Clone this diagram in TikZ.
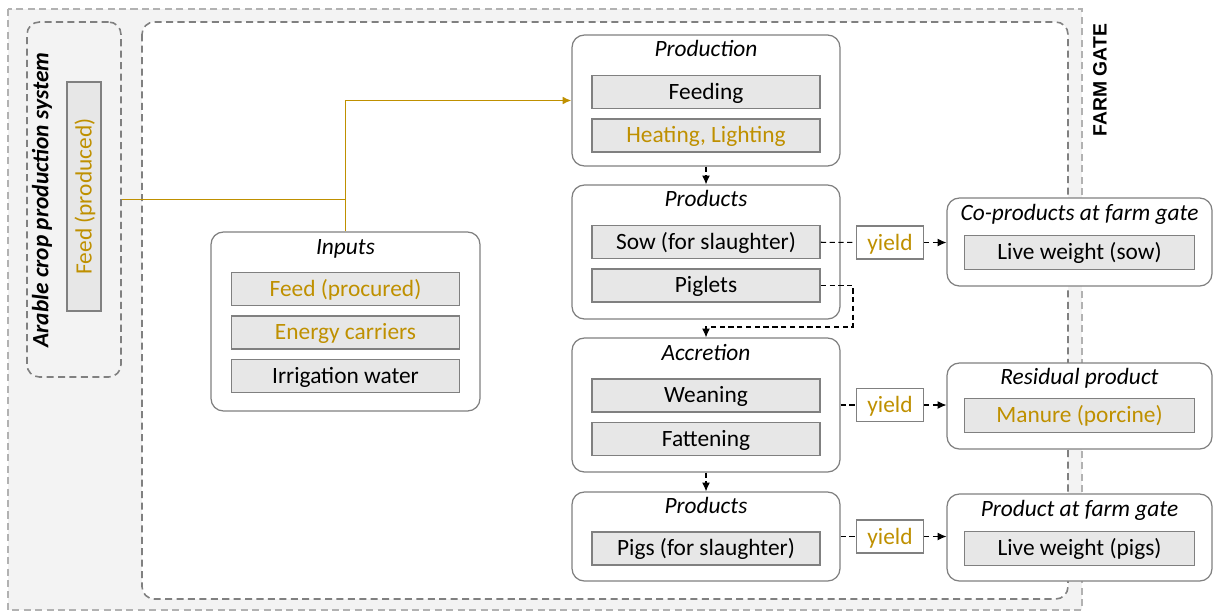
\documentclass[tikz,border=0pt]{standalone}
\usepackage{fontspec}
\setmainfont{Carlito}
\newfontfamily\gatefont{Liberation Sans}
\usetikzlibrary{positioning,arrows.meta}

\definecolor{gold}{RGB}{191,144,0}
\definecolor{boxline}{RGB}{128,128,128}
\definecolor{itemfill}{RGB}{231,231,231}
\definecolor{gatefill}{RGB}{243,243,243}
\definecolor{gateline}{RGB}{178,178,178}

\newcommand{\labelsize}{\fontsize{13.3pt}{16pt}\selectfont}

\tikzset{
  container/.style={draw=boxline, line width=0.7pt, rounded corners=7pt, fill=white, minimum width=5.36cm},
  outbox/.style={container, minimum width=5.3cm},
  item/.style={draw=boxline, line width=0.9pt, fill=itemfill, minimum width=4.56cm, minimum height=0.66cm, inner sep=0pt, text height=8.6pt, text depth=0pt},
  outitem/.style={item, minimum width=4.6cm, minimum height=0.68cm},
  boxtitle/.style={font=\labelsize\itshape, inner sep=0pt, text height=8.6pt, text depth=0pt},
  yieldbox/.style={draw=boxline, line width=0.7pt, fill=white, text=gold, minimum width=1.34cm, minimum height=0.66cm, inner sep=0pt, text height=8.6pt, text depth=0pt},
  region/.style={dashed, dash pattern=on 4pt off 2.5pt, line width=0.9pt},
  flow/.style={draw, dashed, dash pattern=on 3pt off 2pt, line width=0.6pt},
  feedline/.style={draw=gold, line width=0.9pt},
}

\begin{document}
\begin{tikzpicture}[x=0.02cm, y=-0.02cm, node distance=0.87cm, >={Latex[length=5pt,width=4.5pt]}, font=\labelsize]
    \useasboundingbox (0,0) rectangle (1213,612);

    % farm gate regions
    \draw[region, draw=gateline, fill=gatefill] (8,9) rectangle (1082,610);
    \draw[region, draw=boxline, fill=white, rounded corners=7pt] (142,22) rectangle (1068,599);
    \node (gatelabel) [rotate=90, font=\gatefont\bfseries\fontsize{11pt}{13pt}\selectfont] at (1100,80) {FARM GATE};

    % arable crop production system
    \node (arable) [region, draw=boxline, rounded corners=7pt, minimum width=1.88cm, minimum height=7.1cm] at (74,199.5) {};
    \node (arablelabel) [rotate=90, font=\labelsize\bfseries\itshape] at (42,200) {Arable crop production system};
    \node (feedown) [item, rotate=90, text=gold, minimum width=4.58cm, minimum height=0.68cm] at (84,196.5) {Feed (produced)};

    % inputs
    \node (inputs) [container, minimum width=5.38cm, minimum height=3.58cm] at (345.5,321.5) {};
    \node (inputstitle) [boxtitle] at ([yshift=-0.32cm]inputs.north) {Inputs};
    \node (feedbought) [item, text=gold] at ([yshift=-1.15cm]inputs.north) {Feed (procured)};
    \node (energy) [item, text=gold, below of=feedbought] {Energy carriers};
    \node (water) [item, below of=energy] {Irrigation water};

    % production chain
    \node (production) [container, minimum height=2.62cm] at (706,100.5) {};
    \node (prodtitle) [boxtitle] at ([yshift=-0.3cm]production.north) {Production};
    \node (feeding) [item] at ([yshift=-1.15cm]production.north) {Feeding};
    \node (heating) [item, text=gold, below of=feeding] {Heating, Lighting};

    \node (offspring) [container, minimum height=2.68cm] at (706,252) {};
    \node (offspringtitle) [boxtitle] at ([yshift=-0.3cm]offspring.north) {Products};
    \node (sow) [item] at ([yshift=-1.15cm]offspring.north) {Sow (for slaughter)};
    \node (piglets) [item, below of=sow] {Piglets};

    \node (accretion) [container, minimum height=2.68cm] at (706,405) {};
    \node (accretiontitle) [boxtitle] at ([yshift=-0.32cm]accretion.north) {Accretion};
    \node (weaning) [item] at ([yshift=-1.16cm]accretion.north) {Weaning};
    \node (fattening) [item, below of=weaning] {Fattening};

    \node (fattened) [container, minimum height=1.78cm] at (706,536.5) {};
    \node (fattenedtitle) [boxtitle] at ([yshift=-0.3cm]fattened.north) {Products};
    \node (pigs) [item] at ([yshift=-1.14cm]fattened.north) {Pigs (for slaughter)};

    % outputs
    \node (coproduct) [outbox, minimum height=1.76cm] at (1079.5,242) {};
    \node (coproducttitle) [boxtitle] at ([yshift=-0.32cm]coproduct.north) {Co-products at farm gate};
    \node (livesow) [outitem] at ([yshift=-1.1cm]coproduct.north) {Live weight (sow)};

    \node (residual) [outbox, minimum height=1.72cm] at (1079.5,406) {};
    \node (residualtitle) [boxtitle] at ([yshift=-0.3cm]residual.north) {Residual product};
    \node (manure) [outitem, text=gold] at ([yshift=-1.06cm]residual.north) {Manure (porcine)};

    \node (gateproduct) [outbox, minimum height=1.74cm] at (1079.5,537.5) {};
    \node (gateproducttitle) [boxtitle] at ([yshift=-0.32cm]gateproduct.north) {Product at farm gate};
    \node (livepigs) [outitem] at ([yshift=-1.1cm]gateproduct.north) {Live weight (pigs)};

    % yields
    \node (yieldsow) [yieldbox] at (890,242.5) {yield};
    \node (yieldmanure) [yieldbox] at (890,405) {yield};
    \node (yieldpigs) [yieldbox] at (890,536.5) {yield};

    % feed flow
    \draw[feedline] (arable.east) -- (arable.east -| inputs.north);
    \draw[feedline, ->] (inputs.north) |- (production.west);

    % product flows
    \draw[flow, ->] (production) -- (offspring);
    \draw[flow] (sow) -- (yieldsow);
    \draw[flow, ->] (yieldsow) -- (yieldsow -| coproduct.west);
    \coordinate (pigbend) at (853,327);
    \draw[flow, ->] (piglets.east) -| (pigbend) -| (accretion.north);
    \draw[flow] (accretion) -- (yieldmanure);
    \draw[flow, ->] (yieldmanure) -- (yieldmanure -| residual.west);
    \draw[flow, ->] (accretion) -- (fattened);
    \draw[flow] (fattened) -- (yieldpigs);
    \draw[flow, ->] (yieldpigs) -- (yieldpigs -| gateproduct.west);
\end{tikzpicture}
\end{document}
